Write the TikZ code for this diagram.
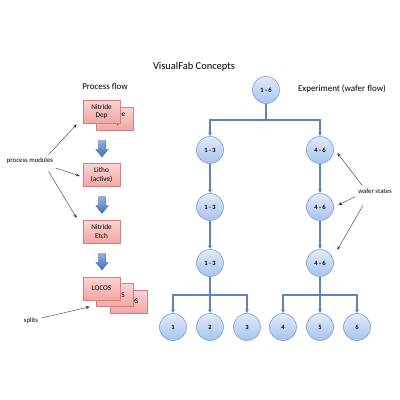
\documentclass[tikz,border=0pt]{standalone}
\usepackage{fontspec}
\setmainfont{Carlito}
\usetikzlibrary{arrows.meta,calc}
\definecolor{boxline}{HTML}{D08080}
\definecolor{boxtop}{HTML}{FAD4D4}
\definecolor{boxbot}{HTML}{F2A6A6}
\definecolor{circline}{HTML}{7F9FD0}
\definecolor{circtop}{HTML}{E0EAFA}
\definecolor{circbot}{HTML}{A9C2EE}
\definecolor{conn}{HTML}{5B84BD}
\definecolor{arrtop}{HTML}{8FB4E8}
\definecolor{arrbot}{HTML}{3F6FB5}
\tikzset{
  procbox/.style={draw=boxline, line width=0.6pt, top color=boxtop, bottom color=boxbot,
    minimum width=37bp, minimum height=23bp, inner sep=1pt, align=center,
    font=\fontsize{7.3}{8.5}\selectfont},
  wstate/.style={circle, draw=circline, line width=0.6pt, top color=circtop, bottom color=circbot,
    minimum size=27bp, inner sep=0pt, font=\fontsize{6.5}{7.5}\selectfont\bfseries},
  link/.style={draw=conn, line width=1.4pt, -{Stealth[length=4pt,width=4pt]}},
  bar/.style={draw=conn, line width=1.4pt},
  note/.style={-{Stealth[length=4pt,width=3pt]}, line width=0.4pt, black!80},
  notetext/.style={font=\fontsize{6.8}{8}\selectfont},
  blockarrow/.style={top color=arrtop, bottom color=arrbot, draw=none}
}
\newcommand{\blockdown}[2]{%
  \fill[blockarrow] (#1-3.5,#2) -- (#1+3.5,#2) -- (#1+3.5,#2+9) -- (#1+6.5,#2+9)
    -- (#1,#2+17) -- (#1-6.5,#2+9) -- (#1-3.5,#2+9) -- cycle;}
\begin{document}
\begin{tikzpicture}[x=1bp,y=-1bp]
\useasboundingbox (0,0) rectangle (400,400);
\node[font=\fontsize{10.5}{12}\selectfont] (title) at (194,67) {VisualFab Concepts};
\node[font=\fontsize{9}{10}\selectfont] (pf) at (105,86) {Process flow};
\node[font=\fontsize{9}{10}\selectfont] (ex) at (342,89) {Experiment (wafer flow)};

% process boxes
\node[procbox] (nd2) at (115,118.5) {Nitride\\Dep};
\node[procbox] (nd) at (101.5,111.5) {Nitride\\Dep};
\node[procbox] (li) at (101.5,175) {Litho\\(active)};
\node[procbox] (ne) at (101.5,231.5) {Nitride\\Etch};
\node[procbox] (lo3) at (128.5,301.5) {LOCOS};
\node[procbox] (lo2) at (115,295) {LOCOS};
\node[procbox] (lo) at (101.5,288.5) {LOCOS};

\blockdown{102}{140}
\blockdown{102}{196.5}
\blockdown{102}{253}

\node[notetext] (pm) at (30,161) {process modules};
\node[notetext] (sp) at (31,321) {splits};
\draw[note] ($(pm.north east)+(-8,0)$) -- ($(nd.south west)+(-6,1)$);
\draw[note] ($(pm.east)+(-1,7)$) -- ($(li.west)+(-3,1)$);
\draw[note] ($(pm.south east)+(-8,4)$) -- ($(ne.west)+(-6,-13.5)$);
\draw[note] ($(sp.east)+(0,-3)$) -- ($(lo2.south west)+(-6.5,0)$);

% wafer states
\node[wstate] (w16) at (266,90) {1 - 6};
\node[wstate] (l1) at (210,150) {1 - 3};
\node[wstate] (l2) at (210,207) {1 - 3};
\node[wstate] (l3) at (210,263) {1 - 3};
\node[wstate] (r1) at (320,150) {4 - 6};
\node[wstate] (r2) at (320,207) {4 - 6};
\node[wstate] (r3) at (320,263) {4 - 6};
\node[wstate] (b1) at (173,327) {1};
\node[wstate] (b2) at (210,327) {2};
\node[wstate] (b3) at (247,327) {3};
\node[wstate] (b4) at (283,327) {4};
\node[wstate] (b5) at (320,327) {5};
\node[wstate] (b6) at (357,327) {6};

\coordinate (j0) at (266,120);
\draw[bar] (w16.south) -- (j0);
\draw[link] (j0) -| (l1.north);
\draw[link] (j0) -| (r1.north);
\draw[link] (l1) -- (l2);
\draw[link] (l2) -- (l3);
\draw[link] (r1) -- (r2);
\draw[link] (r2) -- (r3);
\coordinate (jl) at (210,295);
\coordinate (jr) at (320,295);
\draw[bar] (l3.south) -- (jl);
\draw[bar] (r3.south) -- (jr);
\draw[link] (jl) -| (b1.north);
\draw[link] (jl) -| (b3.north);
\draw[link] (jl) -- (b2.north);
\draw[link] (jr) -| (b4.north);
\draw[link] (jr) -| (b6.north);
\draw[link] (jr) -- (b5.north);

\node[notetext] (ws) at (375,191) {wafer states};
\draw[note] ($(ws.north)+(-13,0)$) -- ($(r1.east)+(3.5,3)$);
\draw[note] ($(ws.south west)+(0,0)$) -- ($(r2.east)+(4.5,-2)$);
\draw[note] ($(ws.south)+(-12,8.5)$) -- ($(r3.east)+(3.5,-13)$);
\end{tikzpicture}
\end{document}
